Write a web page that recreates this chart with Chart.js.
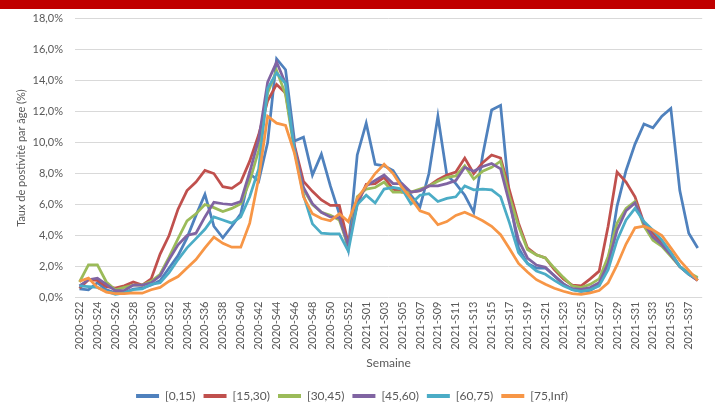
<!DOCTYPE html>
<html>
<head>
<meta charset="utf-8">
<script src="https://cdn.jsdelivr.net/npm/chart.js@4.4.0/dist/chart.umd.min.js"></script>
<style>
  html, body { margin: 0; padding: 0; background: #fff; }
</style>
</head>
<body>
<canvas id="chart" width="715" height="403"></canvas>
<script>
// Weekly categories
const weeks = [
  "2020-S22", "2020-S23", "2020-S24", "2020-S25", "2020-S26", "2020-S27", "2020-S28", "2020-S29",
  "2020-S30", "2020-S31", "2020-S32", "2020-S33", "2020-S34", "2020-S35", "2020-S36", "2020-S37",
  "2020-S38", "2020-S39", "2020-S40", "2020-S41", "2020-S42", "2020-S43", "2020-S44", "2020-S45",
  "2020-S46", "2020-S47", "2020-S48", "2020-S49", "2020-S50", "2020-S51", "2020-S52", "2020-S53",
  "2021-S01", "2021-S02", "2021-S03", "2021-S04", "2021-S05", "2021-S06", "2021-S07", "2021-S08",
  "2021-S09", "2021-S10", "2021-S11", "2021-S12", "2021-S13", "2021-S14", "2021-S15", "2021-S16",
  "2021-S17", "2021-S18", "2021-S19", "2021-S20", "2021-S21", "2021-S22", "2021-S23", "2021-S24",
  "2021-S25", "2021-S26", "2021-S27", "2021-S28", "2021-S29", "2021-S30", "2021-S31", "2021-S32",
  "2021-S33", "2021-S34", "2021-S35", "2021-S36", "2021-S37", "2021-S38"
];

const ageGroups = ["[0,15)", "[15,30)", "[30,45)", "[45,60)", "[60,75)", "[75,Inf)"];

// Positivity rate (%) per age group
const age0_15 = [
  0.55, 0.5, 0.95, 0.5, 0.3, 0.3, 0.55, 0.6, 0.8, 1.1, 1.9, 2.7, 3.85, 5.3, 6.65, 4.6,
  3.85, 4.6, 5.4, 8.0, 7.5, 10.0, 15.4, 14.7, 10.1, 10.35, 7.9, 9.25, 7.2, 5.4, 3.1, 9.2,
  11.25, 8.6, 8.5, 8.2, 7.3, 6.6, 5.85, 8.0, 11.7, 7.9, 7.35, 6.6, 5.5, 9.2, 12.1, 12.4,
  6.4, 3.2, 2.2, 1.9, 1.9, 1.4, 0.9, 0.5, 0.4, 0.45, 0.8, 2.3, 5.9, 8.2, 9.9, 11.2,
  10.95, 11.7, 12.2, 6.9, 4.15, 3.2
];
const age15_30 = [
  0.6, 1.15, 1.1, 0.7, 0.6, 0.75, 1.0, 0.8, 1.2, 2.8, 4.0, 5.7, 6.9, 7.45, 8.2, 8.0,
  7.15, 7.05, 7.45, 8.8, 10.5, 12.7, 13.75, 13.2, 9.8, 7.5, 6.85, 6.3, 5.95, 5.95, 3.5, 6.0,
  7.3, 7.35, 7.75, 7.0, 6.8, 6.8, 6.9, 7.2, 7.6, 7.9, 8.1, 9.0, 8.0, 8.7, 9.2, 9.0,
  6.9, 4.8, 3.2, 2.75, 2.55, 1.8, 1.2, 0.8, 0.75, 1.2, 1.7, 4.6, 8.1, 7.45, 6.5, 4.8,
  4.15, 3.5, 2.9, 2.0, 1.5, 1.1
];
const age30_45 = [
  1.0, 2.1, 2.1, 1.0, 0.5, 0.65, 0.8, 0.8, 1.05, 1.5, 2.6, 3.8, 4.95, 5.4, 6.0, 5.8,
  5.55, 5.75, 6.05, 7.5, 9.5, 13.2, 14.65, 13.1, 9.4, 7.0, 6.0, 5.5, 5.3, 5.0, 3.3, 6.5,
  7.0, 7.1, 7.45, 6.8, 6.8, 6.8, 7.0, 7.2, 7.5, 7.75, 7.85, 8.5, 7.65, 8.15, 8.4, 8.8,
  6.5, 4.6, 3.1, 2.75, 2.55, 1.9, 1.3, 0.75, 0.64, 0.85, 1.2, 2.65, 4.8, 5.75, 6.2, 4.6,
  3.7, 3.3, 2.65, 2.0, 1.6, 1.3
];
const age45_60 = [
  0.75, 1.15, 1.25, 0.85, 0.45, 0.45, 0.8, 0.8, 0.95, 1.4, 2.45, 3.4, 4.0, 4.15, 5.2, 6.15,
  6.05, 6.0, 6.2, 8.1, 10.2, 13.9, 15.2, 13.8, 9.7, 7.1, 6.05, 5.5, 5.2, 5.15, 3.4, 6.2,
  7.2, 7.55, 7.9, 7.35, 7.35, 6.8, 6.9, 7.2, 7.2, 7.35, 7.55, 8.4, 8.15, 8.45, 8.65, 8.3,
  6.05, 3.7, 2.55, 2.1, 1.95, 1.4, 0.85, 0.57, 0.53, 0.64, 0.95, 2.2, 4.35, 5.6, 6.1, 4.8,
  3.9, 3.4, 2.75, 2.0, 1.5, 1.1
];
const age60_75 = [
  0.75, 0.7, 0.65, 0.4, 0.2, 0.3, 0.5, 0.55, 0.85, 0.95, 1.6, 2.45, 3.2, 3.8, 4.4, 5.2,
  5.0, 4.8, 5.2, 6.5, 8.3, 13.5, 14.5, 13.8, 9.5, 6.6, 4.75, 4.15, 4.1, 4.1, 3.0, 6.0,
  6.6, 6.1, 7.0, 7.1, 7.0, 6.05, 6.6, 6.7, 6.2, 6.4, 6.5, 7.2, 6.95, 7.0, 6.95, 6.5,
  4.8, 2.9, 2.2, 1.7, 1.5, 1.1, 0.75, 0.5, 0.4, 0.5, 0.75, 1.8, 3.7, 5.0, 5.75, 4.9,
  4.35, 3.7, 2.9, 2.0, 1.5, 1.2
];
const age75_inf = [
  1.05, 1.25, 0.65, 0.35, 0.25, 0.25, 0.3, 0.28, 0.5, 0.65, 1.05, 1.35, 1.9, 2.45, 3.2, 3.9,
  3.5, 3.25, 3.25, 4.8, 7.7, 11.7, 11.25, 11.1, 9.3, 6.5, 5.4, 5.1, 4.95, 5.4, 4.9, 6.4,
  7.2, 8.0, 8.6, 8.0, 7.1, 6.4, 5.6, 5.4, 4.7, 4.9, 5.3, 5.5, 5.25, 4.95, 4.6, 4.05,
  3.15, 2.2, 1.65, 1.15, 0.85, 0.6, 0.4, 0.25, 0.2, 0.3, 0.45, 0.95, 2.1, 3.45, 4.5, 4.6,
  4.35, 4.0, 3.2, 2.4, 1.75, 1.1
];

const seriesValues = [age0_15, age15_30, age30_45, age45_60, age60_75, age75_inf];
const seriesColors = ["#4F81BD", "#C0504D", "#9BBB59", "#8064A2", "#4BACC6", "#F79646"];

Chart.defaults.font.family = "Lato, 'Open Sans', sans-serif";
Chart.defaults.color = "#595959";

// Red band at the top of the picture
const topBand = {
  id: "topBand",
  beforeDraw(chart) {
    const ctx = chart.ctx;
    ctx.save();
    ctx.fillStyle = "#fff";
    ctx.fillRect(0, 0, chart.width, chart.height);
    ctx.fillStyle = "#C00000";
    ctx.fillRect(0, 0, chart.width, 9);
    ctx.restore();
  }
};

const datasets = ageGroups.map((name, i) => ({
  label: name,
  data: seriesValues[i],
  borderColor: seriesColors[i],
  backgroundColor: seriesColors[i],
  borderWidth: 2.75,
  pointRadius: 0,
  tension: 0,
  fill: false,
  order: ageGroups.length - i
}));

new Chart(document.getElementById("chart").getContext("2d"), {
  type: "line",
  data: { labels: weeks, datasets },
  options: {
    responsive: false,
    animation: false,
    devicePixelRatio: 1,
    layout: { padding: { top: 16, right: 11, left: 0, bottom: 0 } },
    plugins: {
      legend: {
        position: "bottom",
        maxHeight: 21,
        labels: {
          usePointStyle: true,
          pointStyle: "line",
          pointStyleWidth: 23,
          padding: 8,
          font: { size: 12 },
          sort: (a, b) => a.datasetIndex - b.datasetIndex,
          generateLabels: (chart) =>
            Chart.defaults.plugins.legend.labels.generateLabels(chart)
              .map(item => ({ ...item, lineWidth: 4 }))
        }
      },
      tooltip: { enabled: false }
    },
    scales: {
      x: {
        offset: true,
        grid: { display: false, drawTicks: false },
        border: { display: false },
        ticks: {
          autoSkip: false,
          minRotation: 90,
          maxRotation: 90,
          padding: 4,
          font: { size: 11 },
          callback: function (v, i) {
            return i % 2 === 0 ? this.getLabelForValue(v) : "";
          }
        },
        title: {
          display: true,
          text: "Semaine",
          font: { size: 12 },
          padding: { top: 4, bottom: 12 }
        },
        afterFit: (scale) => { scale.height = 84.5; }
      },
      y: {
        min: 0,
        max: 18,
        grid: { color: "#D9D9D9", lineWidth: 1, drawTicks: false },
        border: { display: false },
        ticks: {
          stepSize: 2,
          padding: 12,
          font: { size: 11 },
          callback: (v) => v.toFixed(1).replace(".", ",") + "%"
        },
        title: {
          display: true,
          text: "Taux de postivité par âge (%)",
          font: { size: 11 },
          padding: { top: 15, bottom: 4 }
        },
        afterFit: (scale) => { scale.width = 75; }
      }
    }
  },
  plugins: [topBand]
});
</script>
</body>
</html>
